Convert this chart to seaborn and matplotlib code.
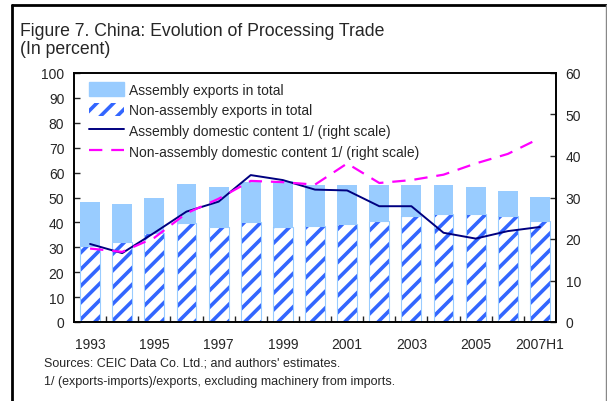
import matplotlib
matplotlib.use("Agg")
import matplotlib.pyplot as plt
import seaborn as sns
import numpy as np
import pandas as pd
from matplotlib.patches import Patch
from matplotlib.lines import Line2D

# Data
years = ['1993', '1994', '1995', '1996', '1997', '1998', '1999', '2000',
         '2001', '2002', '2003', '2004', '2005', '2006', '2007H1']
non_assembly = [30.4, 32.0, 35.6, 39.7, 38.1, 40.0, 38.3, 38.5,
                39.5, 40.4, 42.5, 43.5, 43.3, 42.5, 40.4]
assembly = [17.6, 15.2, 14.0, 15.9, 16.3, 16.4, 18.2, 16.7,
            15.7, 14.8, 12.7, 11.7, 11.1, 10.3, 10.0]
assembly_dc = [18.8, 16.6, 21.5, 26.6, 29.0, 35.4, 34.2, 31.9,
               31.7, 27.9, 27.9, 21.5, 20.1, 21.9, 22.9]
non_assembly_dc = [17.7, 16.9, 20.3, 26.2, 29.7, 34.0, 33.7, 33.1,
                   38.2, 33.5, 34.2, 35.5, 38.2, 40.5, 44.3]

df = pd.DataFrame({'year': years, 'non_assembly': non_assembly, 'assembly': assembly,
                   'assembly_dc': assembly_dc, 'non_assembly_dc': non_assembly_dc})
df['total'] = df['non_assembly'] + df['assembly']
df['pos'] = np.arange(len(df))

sns.set_style('white')
plt.rcParams['font.family'] = ['Liberation Sans', 'DejaVu Sans']
plt.rcParams['hatch.linewidth'] = 2.6

light_blue = '#99CCFF'
hatch_blue = '#3366FF'
navy = '#000080'
magenta = '#FF00FF'

fig = plt.figure(figsize=(6.07, 4.02), dpi=100)
ax = fig.add_axes([74 / 607, 1 - 323 / 402, 482 / 607, 249 / 402])

# stacked bars: assembly on top of non-assembly
sns.barplot(data=df, x='year', y='total', color=light_blue, saturation=1,
            width=0.62, edgecolor=light_blue, linewidth=0, ax=ax)
sns.barplot(data=df, x='year', y='non_assembly', color='white', saturation=1,
            width=0.62, edgecolor=hatch_blue, linewidth=0, hatch='//', ax=ax)
sns.barplot(data=df, x='year', y='non_assembly', fill=False, saturation=1,
            width=0.62, edgecolor=light_blue, linewidth=0.8, ax=ax)

ax.set_ylim(0, 100)
ax.set_xlim(-0.5, len(years) - 0.5)
ax.set_yticks(np.arange(0, 101, 10))
ax.set_xticks(df['pos'][::2])
ax.set_xticklabels(df['year'][::2])
ax.set_xticks(df['pos'][:-1] + 0.5, minor=True)
ax.tick_params(axis='x', which='major', length=0, labelsize=10, pad=11)
ax.tick_params(axis='x', which='minor', direction='in', length=4, width=1, bottom=True)
ax.tick_params(axis='y', direction='in', length=4, width=1, left=True, labelsize=10, pad=7)
ax.set_xlabel('')
ax.set_ylabel('')
for s in ax.spines.values():
    s.set_color('black')
    s.set_linewidth(1.2)

ax2 = ax.twinx()
sns.lineplot(data=df, x='pos', y='assembly_dc', color=navy, linewidth=1.4, ax=ax2)
sns.lineplot(data=df, x='pos', y='non_assembly_dc', color=magenta, linewidth=1.6,
             dashes=False, ax=ax2)
ax2.lines[1].set_dashes([6, 4])
ax2.set_ylim(0, 60)
ax2.set_xlim(-0.5, len(years) - 0.5)
ax2.set_yticks(np.arange(0, 61, 10))
ax2.tick_params(axis='y', direction='in', length=4, width=1, right=True, labelsize=10, pad=7)
ax2.set_ylabel('')
ax2.set_xlabel('')
for s in ax2.spines.values():
    s.set_color('black')
    s.set_linewidth(1.2)

handles = [
    Patch(facecolor=light_blue, edgecolor=light_blue),
    Patch(facecolor='white', edgecolor=hatch_blue, hatch='//', linewidth=0),
    Line2D([], [], color=navy, linewidth=1.4),
    Line2D([], [], color=magenta, linewidth=1.6, dashes=[6, 4]),
]
labels = ['Assembly exports in total', 'Non-assembly exports in total',
          'Assembly domestic content 1/ (right scale)',
          'Non-assembly domestic content 1/ (right scale)']
ax2.legend(handles, labels, loc='upper left', bbox_to_anchor=(0.02, 0.985), frameon=False,
           fontsize=10, handlelength=2.5, handleheight=1.1, labelspacing=0.45,
           handletextpad=0.4, borderaxespad=0)

fig.text(20 / 607, 1 - 31 / 402, 'Figure 7. China: Evolution of Processing Trade',
         fontsize=12.7, va='center', ha='left')
fig.text(20 / 607, 1 - 50 / 402, '(In percent)', fontsize=12.7, va='center', ha='left')
fig.text(44 / 607, 1 - 363 / 402, "Sources: CEIC Data Co. Ltd.; and authors' estimates.",
         fontsize=9, va='center', ha='left')
fig.text(44 / 607, 1 - 382 / 402, '1/ (exports-imports)/exports, excluding machinery from imports.',
         fontsize=9, va='center', ha='left')

# frame around the figure
fig.add_artist(plt.Line2D([12.5 / 607, 12.5 / 607], [0, 1 - 6 / 402], color='black',
                          linewidth=2, transform=fig.transFigure))
fig.add_artist(plt.Line2D([12.5 / 607, 606 / 607], [1 - 6 / 402, 1 - 6 / 402], color='black',
                          linewidth=2, transform=fig.transFigure))
fig.add_artist(plt.Line2D([605.5 / 607, 605.5 / 607], [0, 1 - 6 / 402], color='#888888',
                          linewidth=1, transform=fig.transFigure))

fig.savefig('out.png', dpi=100)
